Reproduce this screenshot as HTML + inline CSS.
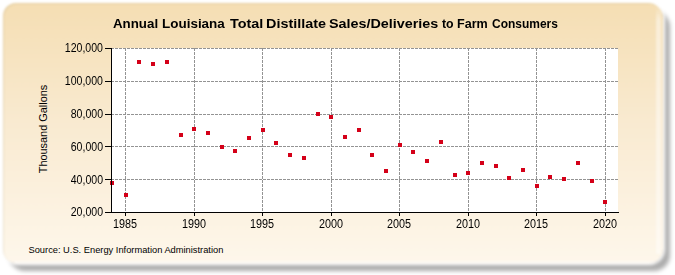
<!DOCTYPE html>
<html><head><meta charset="utf-8"><style>
html,body{margin:0;padding:0;width:675px;height:275px;overflow:hidden;background:#fff;}
body{position:relative;font-family:"Liberation Sans",sans-serif;}
.shadow{position:absolute;left:9px;top:11px;width:661px;height:260px;border-radius:16px;background:rgba(0,0,0,0.32);filter:blur(2.2px);}
.hl{position:absolute;background:rgba(255,255,255,0.45);filter:blur(1px);}
.panel{position:absolute;left:2.5px;top:2.5px;width:660.5px;height:260.5px;border-radius:13px 15px 14px 13px;
background:linear-gradient(to bottom,#f5deb3 0%,#f9ead0 45%,#fef7eb 100%);
box-shadow:inset 1px 1px 1px rgba(110,90,40,0.12),0 0 3px 2px #fff;filter:blur(1px);}
.tw{position:absolute;top:14.4px;font-weight:bold;font-size:13px;line-height:20px;color:#000;white-space:nowrap;transform-origin:left top;}
.yl{position:absolute;left:40px;width:63px;text-align:right;font-size:12px;line-height:14px;color:#000;white-space:nowrap;transform:scaleX(0.88);transform-origin:right center;}
.xl{position:absolute;top:216.7px;width:40px;text-align:center;font-size:12px;line-height:14px;color:#000;transform:scaleX(0.9);}
.yt{position:absolute;left:42.8px;top:128.5px;width:0;height:0;}
.yt div{position:absolute;transform:translate(-50%,-50%) rotate(-90deg);font-size:10.9px;line-height:12px;white-space:nowrap;color:#000;}
.src{position:absolute;left:28.5px;top:243.5px;font-size:9.3px;line-height:12px;color:#000;white-space:nowrap;}
svg{position:absolute;left:0;top:0;}
</style></head><body>
<div class="shadow"></div>
<div class="panel"></div>
<div class="hl" style="left:656px;top:6px;width:5px;height:248px;background:linear-gradient(to bottom,rgba(255,255,255,0),rgba(255,255,255,0.45) 14px)"></div>
<div class="hl" style="left:14px;top:260.5px;width:640px;height:2px"></div>
<span class="tw" style="left:112.74px;transform:scaleX(1.0233)">Annual</span><span class="tw" style="left:162.32px;transform:scaleX(1.0350)">Louisiana</span><span class="tw" style="left:229.62px;transform:scaleX(1.1069)">Total</span><span class="tw" style="left:266.27px;transform:scaleX(1.1075)">Distillate</span><span class="tw" style="left:329.25px;transform:scaleX(1.1041)">Sales/Deliveries</span><span class="tw" style="left:442.16px;transform:scaleX(0.9478)">to</span><span class="tw" style="left:457.27px;transform:scaleX(0.9686)">Farm</span><span class="tw" style="left:491.54px;transform:scaleX(0.9220)">Consumers</span>
<svg width="675" height="275" viewBox="0 0 675 275">
<rect x="111" y="48" width="507" height="164" fill="#fff"/>
<g stroke="#939393" stroke-width="1" stroke-dasharray="3 1" shape-rendering="crispEdges">
<line x1="125.5" y1="48" x2="125.5" y2="212"/>
<line x1="194.5" y1="48" x2="194.5" y2="212"/>
<line x1="262.5" y1="48" x2="262.5" y2="212"/>
<line x1="331.5" y1="48" x2="331.5" y2="212"/>
<line x1="399.5" y1="48" x2="399.5" y2="212"/>
<line x1="468.5" y1="48" x2="468.5" y2="212"/>
<line x1="536.5" y1="48" x2="536.5" y2="212"/>
<line x1="605.5" y1="48" x2="605.5" y2="212"/>
<line x1="111" y1="48.5" x2="618" y2="48.5"/>
<line x1="111" y1="81.5" x2="618" y2="81.5"/>
<line x1="111" y1="114.5" x2="618" y2="114.5"/>
<line x1="111" y1="146.5" x2="618" y2="146.5"/>
<line x1="111" y1="179.5" x2="618" y2="179.5"/>
</g>
<g fill="#d40018" shape-rendering="crispEdges">
<rect x="110" y="181" width="4" height="4"/>
<rect x="124" y="193" width="4" height="4"/>
<rect x="137" y="60" width="4" height="4"/>
<rect x="151" y="62" width="4" height="4"/>
<rect x="165" y="60" width="4" height="4"/>
<rect x="179" y="133" width="4" height="4"/>
<rect x="192" y="127" width="4" height="4"/>
<rect x="206" y="131" width="4" height="4"/>
<rect x="220" y="145" width="4" height="4"/>
<rect x="233" y="149" width="4" height="4"/>
<rect x="247" y="136" width="4" height="4"/>
<rect x="261" y="128" width="4" height="4"/>
<rect x="274" y="141" width="4" height="4"/>
<rect x="288" y="153" width="4" height="4"/>
<rect x="302" y="156" width="4" height="4"/>
<rect x="316" y="112" width="4" height="4"/>
<rect x="329" y="115" width="4" height="4"/>
<rect x="343" y="135" width="4" height="4"/>
<rect x="357" y="128" width="4" height="4"/>
<rect x="370" y="153" width="4" height="4"/>
<rect x="384" y="169" width="4" height="4"/>
<rect x="398" y="143" width="4" height="4"/>
<rect x="411" y="150" width="4" height="4"/>
<rect x="425" y="159" width="4" height="4"/>
<rect x="439" y="140" width="4" height="4"/>
<rect x="453" y="173" width="4" height="4"/>
<rect x="466" y="171" width="4" height="4"/>
<rect x="480" y="161" width="4" height="4"/>
<rect x="494" y="164" width="4" height="4"/>
<rect x="507" y="176" width="4" height="4"/>
<rect x="521" y="168" width="4" height="4"/>
<rect x="535" y="184" width="4" height="4"/>
<rect x="548" y="175" width="4" height="4"/>
<rect x="562" y="177" width="4" height="4"/>
<rect x="576" y="161" width="4" height="4"/>
<rect x="590" y="179" width="4" height="4"/>
<rect x="603" y="200" width="4" height="4"/>
</g>
<g stroke="#000" stroke-width="1" shape-rendering="crispEdges">
<line x1="111.5" y1="48" x2="111.5" y2="213"/>
<line x1="111" y1="212.5" x2="619" y2="212.5"/>
<line x1="105" y1="48.5" x2="111" y2="48.5"/>
<line x1="105" y1="81.5" x2="111" y2="81.5"/>
<line x1="105" y1="114.5" x2="111" y2="114.5"/>
<line x1="105" y1="146.5" x2="111" y2="146.5"/>
<line x1="105" y1="179.5" x2="111" y2="179.5"/>
<line x1="105" y1="212.5" x2="111" y2="212.5"/>
<line x1="125.5" y1="212" x2="125.5" y2="216"/>
<line x1="194.5" y1="212" x2="194.5" y2="216"/>
<line x1="262.5" y1="212" x2="262.5" y2="216"/>
<line x1="331.5" y1="212" x2="331.5" y2="216"/>
<line x1="399.5" y1="212" x2="399.5" y2="216"/>
<line x1="468.5" y1="212" x2="468.5" y2="216"/>
<line x1="536.5" y1="212" x2="536.5" y2="216"/>
<line x1="605.5" y1="212" x2="605.5" y2="216"/>
</g>
</svg>
<div class="yl" style="top:41px">120,000</div>
<div class="yl" style="top:74px">100,000</div>
<div class="yl" style="top:107px">80,000</div>
<div class="yl" style="top:140px">60,000</div>
<div class="yl" style="top:173px">40,000</div>
<div class="yl" style="top:205px">20,000</div>
<div class="xl" style="left:105px">1985</div>
<div class="xl" style="left:174px">1990</div>
<div class="xl" style="left:242px">1995</div>
<div class="xl" style="left:311px">2000</div>
<div class="xl" style="left:379px">2005</div>
<div class="xl" style="left:448px">2010</div>
<div class="xl" style="left:516px">2015</div>
<div class="xl" style="left:585px">2020</div>
<div class="yt"><div>Thousand Gallons</div></div>
<div class="src">Source: U.S. Energy Information Administration</div>
</body></html>
